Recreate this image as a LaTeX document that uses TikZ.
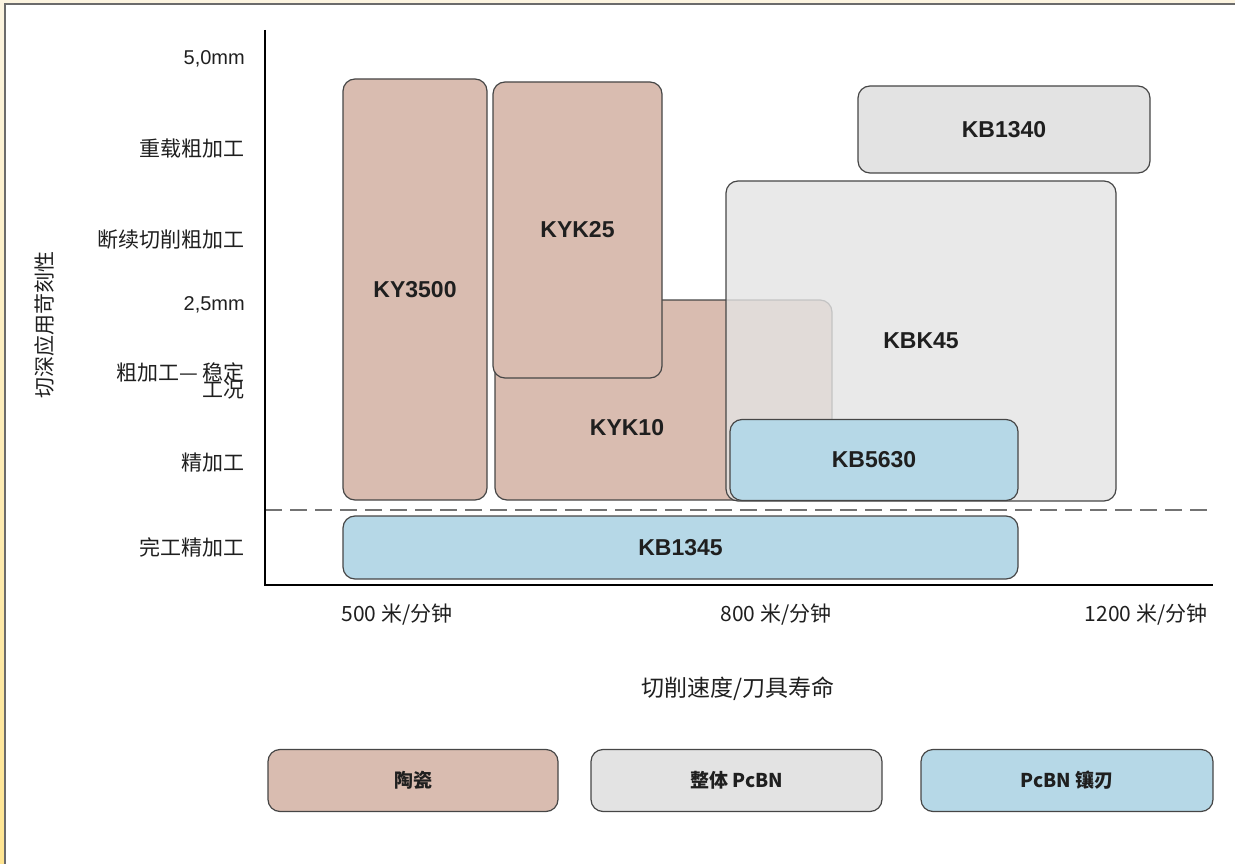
\documentclass[tikz,border=0pt]{standalone}
\usepackage{fontspec}
\setmainfont{Liberation Sans}
\newfontfamily\cjk{Noto Sans CJK SC}
\usetikzlibrary{positioning}
\definecolor{tanfill}{RGB}{217,188,176}
\definecolor{greyfill}{RGB}{227,227,227}
\definecolor{bluefill}{RGB}{182,216,231}
\definecolor{edgegrey}{RGB}{70,70,70}
\definecolor{creamedge}{RGB}{252,244,224}
\definecolor{yellowedge}{RGB}{255,229,145}

\begin{document}
\begin{tikzpicture}[x=1pt, y=-1pt,
	tool/.style={draw=edgegrey, line width=1.2pt, rounded corners=12pt, inner sep=0pt, text=black!88, font=\bfseries\fontsize{23}{23}\selectfont},
	ceramicbox/.style={tool, fill=tanfill},
	solidbox/.style={tool, fill=greyfill},
	tippedbox/.style={tool, fill=bluefill},
	ylabel/.style={anchor=east, inner sep=0pt, text=black!88, font=\cjk\fontsize{21}{19}\selectfont},
	xlabel/.style={text=black!88, font=\cjk\fontsize{21}{21}\selectfont},
	legend/.style={tool, minimum width=290pt, minimum height=62pt, font=\cjk\bfseries\fontsize{19}{19}\selectfont}]
	\useasboundingbox (0,0) rectangle (1235,864);
	% frame
	\fill[creamedge] (0,0) rectangle (1235,4);
	\shade[top color=creamedge, bottom color=yellowedge] (0,0) rectangle (5,864);
	\draw[edgegrey!80, line width=1.5pt] (5,864) -- (5,4) -- (1235,4);

	% ceramic grades
	\node[ceramicbox, minimum width=144pt, minimum height=421pt] (ky3500) at (415,289.5) {KY3500};
	\node[ceramicbox, minimum width=337pt, minimum height=200pt] (kyk10) at (663.5,400) {};
	\node[ceramicbox, minimum width=169pt, minimum height=296pt] (kyk25) at (577.5,230) {KYK25};
	% solid PcBN grades
	\node[solidbox, fill opacity=0.8, text opacity=1, minimum width=390pt, minimum height=320pt] (kbk45) at (921,341) {KBK45};
	\node[text=black!88, font=\bfseries\fontsize{23}{23}\selectfont] (kyk10lbl) at (627,428) {KYK10};
	\node[solidbox, minimum width=292pt, minimum height=87pt] (kb1340) at (1004,129.5) {KB1340};
	% tipped PcBN grades
	\node[tippedbox, minimum width=288pt, minimum height=81pt] (kb5630) at (874,460) {KB5630};
	\node[tippedbox, minimum width=675pt, minimum height=63pt] (kb1345) at (680.5,547.5) {KB1345};

	% axes
	\coordinate (ytop) at (265,30);
	\coordinate (xend) at (1213,585);
	\coordinate (dashl) at (265,510);
	\coordinate (dashr) at (1210,510);
	\draw[black!55, line width=2.5pt, dash pattern=on 17pt off 8pt] (dashl) -- (dashr);
	\draw[black, line width=2.5pt] (ytop) |- (xend);

	\node[ylabel, font=\fontsize{20}{20}\selectfont] (d50) at (245,59) {5,0mm};
	\node[ylabel] (heavy) at (245,149) {重载粗加工};
	\node[ylabel] (interrupt) at (245,240) {断续切削粗加工};
	\node[ylabel, font=\fontsize{20}{20}\selectfont] (d25) at (245,305) {2,5mm};
	\node[ylabel, align=right] (rough) at (245,381) {粗加工— 稳定\\[-2pt]工况};
	\node[ylabel] (finish) at (245,463) {精加工};
	\node[ylabel] (superfinish) at (245,547) {完工精加工};
	\node[xlabel, rotate=90] (ytitle) at (45,325) {切深应用苛刻性};

	\node[xlabel] (v500) at (397,615) {500 米/分钟};
	\node[xlabel] (v800) at (776,615) {800 米/分钟};
	\node[xlabel] (v1200) at (1146,615) {1200 米/分钟};
	\node[xlabel, font=\cjk\fontsize{23}{23}\selectfont] (xtitle) at (738,689) {切削速度/刀具寿命};

	% legend
	\node[legend, fill=tanfill] (legceramic) at (413,780.5) {陶瓷};
	\node[legend, fill=greyfill, minimum width=291pt] (legsolid) at (736.5,780.5) {整体 PcBN};
	\node[legend, fill=bluefill, minimum width=292pt] (legtipped) at (1067,780.5) {PcBN 镶刃};
\end{tikzpicture}
\end{document}
